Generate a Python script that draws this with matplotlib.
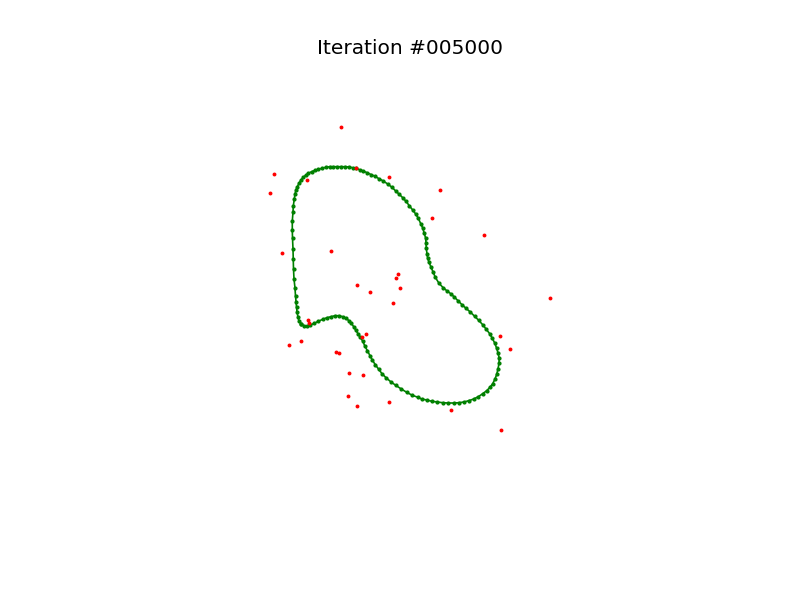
import numpy as np
import matplotlib
matplotlib.use("Agg")
import matplotlib.pyplot as plt

# red sample points (x, y) in picture units
red_x = [341, 274, 270, 307, 389, 356, 440, 432, 484, 282, 331, 398, 396, 357,
         370, 400, 393, 550, 308, 309, 366, 362, 301, 289, 336, 339, 500, 510,
         349, 363, 348, 357, 389, 451, 501]
red_y = [127, 174, 193, 180, 177, 168, 190, 218, 235, 253, 251, 274, 278, 285,
         292, 288, 303, 298, 320, 323, 334, 337, 341, 345, 352, 353, 336, 349,
         373, 375, 396, 406, 402, 410, 430]

# green closed curve nodes
curve_x = [301, 299, 298, 297, 296.5, 296, 295.5, 295, 294, 293.5, 293.3, 293,
           292.5, 292.3, 292.3, 293, 293.3, 294.3, 295, 296, 297.3, 299, 301,
           303.3, 305.7, 308.3, 311.7, 315, 318.3, 322, 325.7, 329.7, 333.3,
           337.3, 341.3, 345, 349, 352.7, 355.7, 359.7, 363.3, 367, 371, 375,
           379, 383.3, 387.7, 392, 396, 399.3, 402.7, 406, 409.3, 412.7, 415.7,
           418.3, 420.7, 422.7, 424.3, 425.7, 426, 426.3, 427, 427.7, 429, 431,
           433, 435.3, 439, 443, 446.5, 450.5, 454, 458.3, 462, 466, 470.3,
           474.7, 478.7, 482.7, 486.3, 489.7, 492.3, 494.7, 496.7, 498, 499.2,
           499, 498, 496.7, 495, 492.7, 490, 486.7, 482.7, 478.3, 473.7, 468.7,
           464, 459, 453.7, 448.3, 442.7, 437.3, 432, 426.7, 421.7, 418, 412.3,
           406.7, 401.3, 395.7, 390.7, 386, 382, 378.7, 375.3, 372.3, 370,
           367.3, 364.7, 362.7, 360, 358, 356, 353.7, 351.3, 349, 346, 342.7,
           339, 335, 331, 327, 322.7, 318.3, 314.3, 310.3, 307, 304]
curve_y = [324, 321, 317, 312, 307, 302, 296, 288, 279, 269, 259, 249, 238,
           230, 221, 212, 206, 199, 194, 190, 186.7, 183.3, 180, 177.3, 175.3,
           173.3, 171.7, 170.3, 169.3, 168.3, 167.3, 166.7, 166.7, 166.7, 166.7,
           166.7, 167, 167.7, 168.3, 169.7, 171, 172.7, 174.5, 176.3, 178.7,
           181, 184, 187.3, 191.3, 194.3, 197.7, 201.3, 205.7, 210, 214, 218.3,
           223.7, 228, 233.3, 238.3, 243.3, 248.3, 254, 258.3, 262.3, 267,
           271.7, 277.3, 283.3, 287.5, 290.5, 293.5, 296.7, 301, 304.7, 308.3,
           312, 316.3, 320.3, 324.7, 329.3, 333.7, 338.3, 343, 348.3, 353, 358,
           363.3, 369, 374.3, 379, 383.7, 387.3, 390.7, 393.7, 396.7, 399,
           400.7, 402, 402.7, 403, 403, 402.7, 402, 401.3, 400, 399, 397.3,
           395.3, 392.3, 389, 385.3, 381.7, 377.7, 373.7, 369.3, 364.7, 360,
           355.7, 350.7, 345.7, 341, 337, 333.7, 330.3, 326.7, 323.3, 320.7,
           318.3, 316.7, 315.7, 315.7, 316.7, 317.7, 319.3, 321.3, 323.3, 325,
           326, 326]

fig = plt.figure(figsize=(8, 6), dpi=100)
ax = fig.add_axes([0.125, 0.11, 0.775, 0.77])

cx = np.append(curve_x, curve_x[0])
cy = np.append(curve_y, curve_y[0])
ax.plot(cx, cy, '-o', color='green', lw=1.2, markersize=2)
ax.plot(red_x, red_y, 'o', color='red', markersize=2.8, markeredgewidth=0)

ax.set_xlim(100, 720)
ax.set_ylim(534, 72)
ax.axis('off')
ax.set_title('Iteration #005000', fontsize=14.5, pad=13)

fig.savefig('out.png', dpi=100)
